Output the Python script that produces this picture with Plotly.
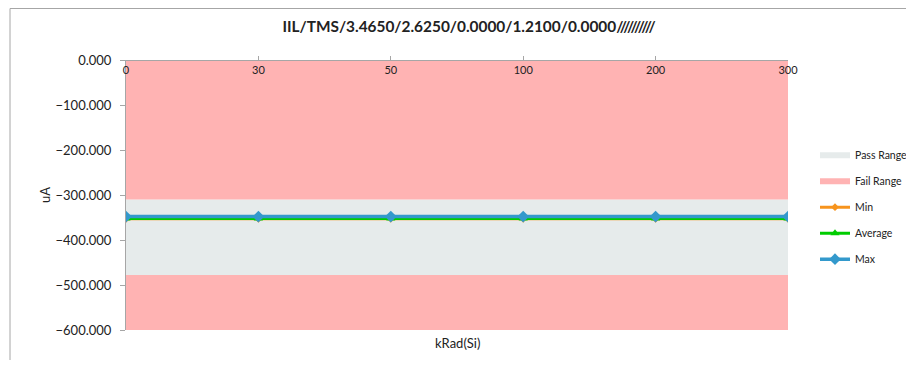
import plotly.graph_objects as go

categories = ["0", "30", "50", "100", "200", "300"]
fail_low_bound = [-600, -600, -600, -600, -600, -600]
pass_low = [-478, -478, -478, -478, -478, -478]
pass_high = [-310, -310, -310, -310, -310, -310]
fail_high_bound = [0, 0, 0, 0, 0, 0]
min_vals = [-353, -353, -353, -353, -353, -353]
avg_vals = [-352, -352, -352, -352, -352, -352]
max_vals = [-348, -348, -348, -348, -348, -348]
title_text = "IIL/TMS/3.4650/2.6250/0.0000/1.2100/0.0000//////////"

PINK = "#FFB3B3"
GREY = "#E6EBEB"
FONT = "Lato"
TXT = "#222222"

W, H = 906, 352
L, R, T, B = 118, 126, 52, 30
PW, PH = W - L - R, H - T - B

fig = go.Figure()
fig.add_trace(go.Scatter(x=categories, y=fail_low_bound, mode="lines", line=dict(width=0, color=PINK),
                         showlegend=False, hoverinfo="skip"))
fig.add_trace(go.Scatter(x=categories, y=pass_low, mode="lines", line=dict(width=0, color=PINK),
                         fill="tonexty", fillcolor=PINK, showlegend=False, hoverinfo="skip"))
fig.add_trace(go.Scatter(x=categories, y=pass_high, mode="none", fill="tonexty", fillcolor=GREY,
                         name="Pass Range", legendgroup="g1"))
fig.add_trace(go.Scatter(x=categories, y=fail_high_bound, mode="none", fill="tonexty", fillcolor=PINK,
                         name="Fail Range", legendgroup="g2"))
fig.add_trace(go.Scatter(x=categories, y=min_vals, mode="lines+markers", name="Min", legendgroup="g3",
                         line=dict(color="#F7941D", width=3),
                         marker=dict(symbol="diamond", size=6, color="#F7941D")))
fig.add_trace(go.Scatter(x=categories, y=avg_vals, mode="lines+markers", name="Average", legendgroup="g4",
                         line=dict(color="#00CC00", width=3),
                         marker=dict(symbol="triangle-up", size=8, color="#00CC00")))
fig.add_trace(go.Scatter(x=categories, y=max_vals, mode="lines+markers", name="Max", legendgroup="g5",
                         line=dict(color="#3399CC", width=3.5),
                         marker=dict(symbol="diamond", size=9, color="#3399CC")))

fig.update_layout(
    width=W, height=H,
    margin=dict(l=L, r=R, t=T, b=B, autoexpand=False),
    paper_bgcolor="white", plot_bgcolor="white",
    font=dict(family=FONT, size=12, color=TXT),
    title=dict(text="<b>" + title_text + "</b>", xref="paper", x=(461 - L) / PW, xanchor="center",
               y=1 - 19 / H, yanchor="middle",
               font=dict(family=FONT, size=15.4, color=TXT)),
    xaxis=dict(type="category", range=[0, 5], side="bottom", anchor="free", position=1.0,
               showgrid=False, zeroline=False, automargin=False,
               showline=True, linecolor="#A6A6A6", ticks="inside", ticklen=4, tickcolor="#A6A6A6",
               tickfont=dict(size=11, color=TXT)),
    yaxis=dict(range=[-600, 0], dtick=100, tickformat=".3f", showgrid=False, zeroline=False,
               automargin=False,
               showline=True, linecolor="#A6A6A6", ticks="outside", ticklen=5, tickcolor="#A6A6A6",
               ticklabelstandoff=6,
               tickfont=dict(size=13, color=TXT),
               title=dict(text="uA", font=dict(size=13, color=TXT), standoff=1)),
    legend=dict(x=(807 - L) / PW, y=0.727 - 7 / PH, xanchor="left", yanchor="top", traceorder="grouped",
                tracegroupgap=7, font=dict(size=10.5, color=TXT), itemwidth=30),
    showlegend=True,
)
fig.add_annotation(text="kRad(Si)", xref="paper", yref="paper", x=(449 - L) / PW, y=-13 / PH,
                   xanchor="center", yanchor="middle", showarrow=False,
                   font=dict(size=13, color=TXT))
# outer chart border (left and top edges)
fig.add_shape(type="line", xref="paper", yref="paper", x0=(2 - L) / PW, x1=(W - L) / PW,
              y0=(T + PH - 0.5) / PH, y1=(T + PH - 0.5) / PH, line=dict(color="#A6A6A6", width=1))
fig.add_shape(type="line", xref="paper", yref="paper", x0=(2 - L) / PW, x1=(2 - L) / PW,
              y0=(T + PH - 0.5) / PH, y1=-B / PH, line=dict(color="#A6A6A6", width=1))

fig.write_html("out.html")
